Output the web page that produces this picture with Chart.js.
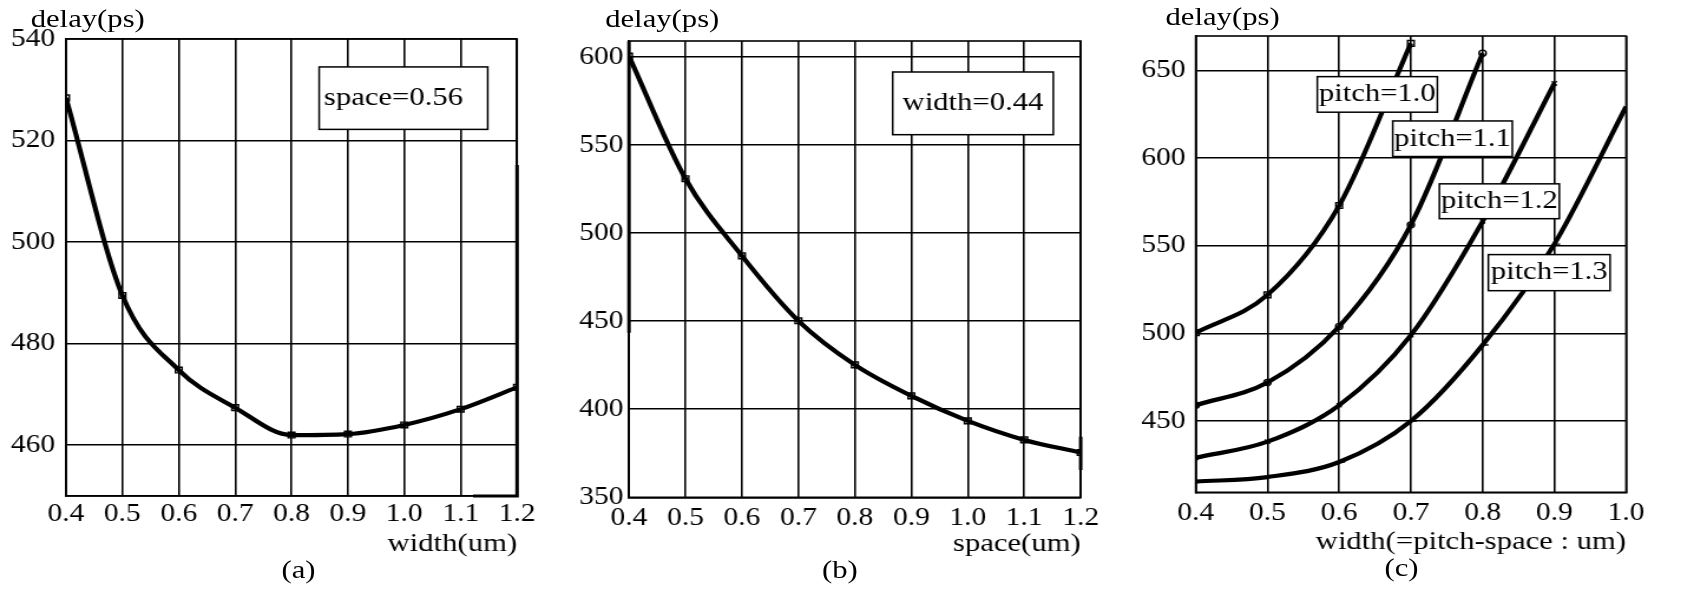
<!DOCTYPE html>
<html lang="en">
<head>
  <meta charset="UTF-8">
  <title>delay vs width / space / pitch</title>
  <script src="https://cdn.jsdelivr.net/npm/chart.js"></script>
  <style>
    body { margin: 0; background: white; overflow: hidden; }
    /* the original figure is stretched sideways, so the whole page is too */
    #wrap { position: absolute; left: 0; top: 0; width: 1436px; height: 590px;
            transform: scaleX(1.17967); transform-origin: 0 0;
            font-family: "Liberation Serif", "Times New Roman", serif; color: black; }
    #wrap canvas { position: absolute; left: 0; top: 0; }
    .lbl { position: absolute; font-size: 26px; line-height: 26px; white-space: nowrap; }
    .cap { transform: translateX(-50%); }
  </style>
</head>
<body>
  <div id="wrap">
    <canvas id="chartA" width="1436" height="590"></canvas>
    <canvas id="chartB" width="1436" height="590"></canvas>
    <canvas id="chartC" width="1436" height="590"></canvas>
    <div class="lbl" style="left:26px; top:6px">delay(ps)</div>
    <div class="lbl" style="left:513px; top:6px">delay(ps)</div>
    <div class="lbl" style="left:988px; top:4px">delay(ps)</div>
    <div class="lbl cap" style="left:253px; top:557px">(a)</div>
    <div class="lbl cap" style="left:712px; top:557px">(b)</div>
    <div class="lbl cap" style="left:1188px; top:555px">(c)</div>
  </div>

  <script>
    // (a) delay vs width, space = 0.56
    const widthA = [0.4, 0.5, 0.6, 0.7, 0.8, 0.9, 1.0, 1.1, 1.2];
    const delayA = [528.4, 489.5, 474.8, 467.4, 462.0, 462.2, 464.0, 467.1, 471.4];

    // (b) delay vs space, width = 0.44
    const spaceB = [0.4, 0.5, 0.6, 0.7, 0.8, 0.9, 1.0, 1.1, 1.2];
    const delayB = [600.5, 530.9, 487.1, 450.2, 425.2, 407.6, 393.4, 382.6, 375.4];

    // (c) delay vs width for several pitches
    const widthP10 = [0.4, 0.5, 0.6, 0.7];
    const delayP10 = [500.4, 522.0, 573.0, 665.6];
    const widthP11 = [0.4, 0.5, 0.6, 0.7, 0.8];
    const delayP11 = [459.0, 472.0, 504.0, 562.0, 660.0];
    const widthP12 = [0.4, 0.5, 0.6, 0.7, 0.8, 0.9];
    const delayP12 = [429.0, 438.2, 459.0, 499.0, 564.0, 642.8];
    const widthP13 = [0.4, 0.5, 0.6, 0.7, 0.8, 0.9, 1.0];
    const delayP13 = [415.4, 418.0, 426.6, 450.0, 493.4, 551.0, 629.5];

    // stray thick strokes along the plot edges in the original
    const edgeAX = [1.2, 1.2, 1.122];
    const edgeAY = [515.2, 450, 450];
    const edgeBX = [0.4, 0.4];
    const edgeBY = [609, 443.4];
    const edgeB2X = [1.2, 1.2];
    const edgeB2Y = [384.4, 365.5];

    // ticks
    const xTicksAB = [0.4, 0.5, 0.6, 0.7, 0.8, 0.9, 1.0, 1.1, 1.2];
    const xLabelsAB = ['0.4', '0.5', '0.6', '0.7', '0.8', '0.9', '1.0', '1.1', '1.2'];
    const xTicksC = [0.4, 0.5, 0.6, 0.7, 0.8, 0.9, 1.0];
    const xLabelsC = ['0.4', '0.5', '0.6', '0.7', '0.8', '0.9', '1.0'];
    const yTicksA = [460, 480, 500, 520, 540];
    const yLabelsA = ['460', '480', '500', '520', '540'];
    const yTicksB = [350, 400, 450, 500, 550, 600];
    const yLabelsB = ['350', '400', '450', '500', '550', '600'];
    const yTicksC = [450, 500, 550, 600, 650];
    const yLabelsC = ['450', '500', '550', '600', '650'];

    const FONT = 'Liberation Serif';

    function pts(xs, ys) {
      return xs.map((x, i) => ({ x: x, y: ys[i] }));
    }

    function curve(xs, ys, style, radius) {
      return {
        data: pts(xs, ys),
        borderColor: '#000',
        borderWidth: 4.2,
        cubicInterpolationMode: 'monotone',
        pointStyle: style,
        pointRadius: radius,
        pointBorderWidth: 1.4,
        pointBorderColor: '#000',
        pointBackgroundColor: 'rgba(0,0,0,0)'
      };
    }

    function edge(xs, ys) {
      return { data: pts(xs, ys), borderColor: '#000', borderWidth: 3, pointRadius: 0, tension: 0, clip: false };
    }

    // closes the plot frame on top and right
    const framePlugin = {
      id: 'frame',
      beforeDatasetsDraw(chart) {
        const { ctx, chartArea: a } = chart;
        ctx.save();
        ctx.strokeStyle = '#000';
        ctx.lineWidth = 1.6;
        ctx.strokeRect(a.left, a.top, a.right - a.left, a.bottom - a.top);
        ctx.restore();
      }
    };

    // boxed text notes placed in data units
    const notesPlugin = {
      id: 'notes',
      afterDatasetsDraw(chart, args, opts) {
        const { ctx } = chart;
        const x = chart.scales.x, y = chart.scales.y;
        ctx.save();
        ctx.font = '26px "' + FONT + '"';
        ctx.textBaseline = 'middle';
        (opts.items || []).forEach(b => {
          const l = x.getPixelForValue(b.x1), r = x.getPixelForValue(b.x2);
          const t = y.getPixelForValue(b.y1), bt = y.getPixelForValue(b.y2);
          ctx.fillStyle = '#fff';
          ctx.fillRect(l, t, r - l, bt - t);
          ctx.strokeStyle = '#000';
          ctx.lineWidth = 1.5;
          ctx.strokeRect(l, t, r - l, bt - t);
          ctx.fillStyle = '#000';
          if (b.align === 'left') {
            ctx.textAlign = 'left';
            ctx.fillText(b.text, l + 4, (t + bt) / 2);
          } else {
            ctx.textAlign = 'center';
            ctx.fillText(b.text, (l + r) / 2, (t + bt) / 2);
          }
        });
        ctx.restore();
      }
    };

    function makePanel(id, p) {
      const grid = { color: '#000', lineWidth: 1.6, drawTicks: false };
      const border = { color: '#000', width: 1.6 };
      return new Chart(document.getElementById(id), {
        type: 'line',
        data: { datasets: p.datasets },
        options: {
          responsive: false,
          animation: false,
          events: [],
          layout: { padding: p.pad },
          plugins: {
            legend: { display: false },
            tooltip: { enabled: false },
            notes: { items: p.notes }
          },
          scales: {
            x: {
              type: 'linear',
              min: p.xMin, max: p.xMax,
              afterBuildTicks: s => { s.ticks = p.xTicks.map(v => ({ value: v })); },
              afterFit: s => { s.height = p.xH; },
              ticks: {
                callback: (v, i) => p.xLabels[i],
                autoSkip: false, maxRotation: 0,
                padding: p.xPad, color: '#000',
                font: { family: FONT, size: 25 }
              },
              grid: grid,
              border: border,
              title: {
                display: true, text: p.xTitle, align: 'end', padding: 0, color: '#000',
                font: { family: FONT, size: 26, lineHeight: 1 }
              }
            },
            y: {
              type: 'linear',
              min: p.yMin, max: p.yMax,
              afterBuildTicks: s => { s.ticks = p.yTicks.map(v => ({ value: v })); },
              afterFit: s => { s.width = 50; },
              ticks: {
                callback: (v, i) => p.yLabels[i],
                autoSkip: false,
                padding: p.yPad, color: '#000',
                font: { family: FONT, size: 25 }
              },
              grid: grid,
              border: border
            }
          }
        },
        plugins: [framePlugin, notesPlugin]
      });
    }

    makePanel('chartA', {
      datasets: [curve(widthA, delayA, 'rect', 4), edge(edgeAX, edgeAY)],
      xMin: 0.4, xMax: 1.2, yMin: 450, yMax: 540,
      xTicks: xTicksAB, xLabels: xLabelsAB, yTicks: yTicksA, yLabels: yLabelsA,
      xTitle: 'width(um)',
      pad: { left: 5.95, right: 997.7, top: 39, bottom: 32.5 },
      xH: 61.5, xPad: 3, yPad: 9.3,
      notes: [{ text: 'space=0.56', x1: 0.849, x2: 1.148, y1: 534.5, y2: 522.2, align: 'left' }]
    });

    makePanel('chartB', {
      datasets: [curve(spaceB, delayB, 'rect', 4), edge(edgeBX, edgeBY), edge(edgeB2X, edgeB2Y)],
      xMin: 0.4, xMax: 1.2, yMin: 350, yMax: 609.1,
      xTicks: xTicksAB, xLabels: xLabelsAB, yTicks: yTicksB, yLabels: yLabelsB,
      xTitle: 'space(um)',
      pad: { left: 483.2, right: 519.9, top: 41, bottom: 32.5 },
      xH: 60.2, xPad: 6, yPad: 4.8,
      notes: [{ text: 'width=0.44', x1: 0.867, x2: 1.1515, y1: 591.5, y2: 555.9 }]
    });

    makePanel('chartC', {
      datasets: [
        curve(widthP10, delayP10, 'rect', 4),
        curve(widthP11, delayP11, 'circle', 3),
        curve(widthP12, delayP12, 'crossRot', 3),
        curve(widthP13, delayP13, 'dash', 5)
      ],
      xMin: 0.4, xMax: 1.0, yMin: 409.3, yMax: 669.8,
      xTicks: xTicksC, xLabels: xLabelsC, yTicks: yTicksC, yLabels: yLabelsC,
      xTitle: 'width(=pitch-space : um)',
      pad: { left: 963.6, right: 57.6, top: 36, bottom: 34.5 },
      xH: 63.2, xPad: 6, yPad: 8.5,
      notes: [
        { text: 'pitch=1.0', x1: 0.5695, x2: 0.7369, y1: 646.6, y2: 626.3 },
        { text: 'pitch=1.1', x1: 0.6747, x2: 0.8414, y1: 621.3, y2: 601.0 },
        { text: 'pitch=1.2', x1: 0.7397, x2: 0.9070, y1: 585.4, y2: 565.5 },
        { text: 'pitch=1.3', x1: 0.8080, x2: 0.9777, y1: 545.0, y2: 524.4 }
      ]
    });
  </script>
</body>
</html>
